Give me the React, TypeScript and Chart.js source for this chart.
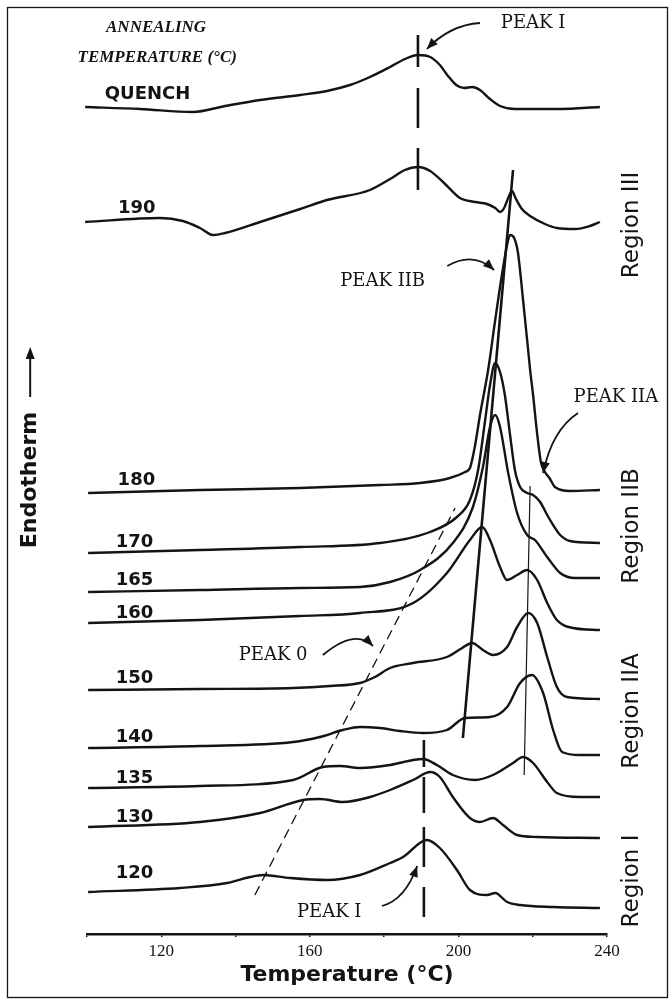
import React, { useEffect, useRef } from "react";
import { Chart, registerables } from "chart.js";

Chart.register(...registerables);

// ---------------- axis ----------------
const X_MIN = 100;
const X_MAX = 240;
const X_STEP = 20;
const X_TICK_LABELS = [120, 160, 200, 240];
const Y_MIN = 0;
const Y_MAX = 924;
const X_TITLE = "Temperature (°C)";
const Y_TITLE = "Endotherm";

// ---------------- DSC curves (temperature °C, endotherm, arbitrary units) ----------------
const quenchT = [99.5, 114.3, 128.5, 137.2, 146.6, 157.4, 164.6, 170.8, 176.2, 181.6, 185.6, 189.1, 192.4, 195.0, 197.2, 199.4, 201.5, 203.7, 205.8, 208.5, 211.2, 215.2, 227.4, 238.1];
const quenchV = [827, 825, 822, 828, 834, 839, 843, 849, 857, 867, 875, 879, 877, 869, 858, 849, 846, 847, 844, 835, 828, 825, 825, 827];

const a190T = [99.5, 119.7, 125.8, 130.4, 133.9, 137.2, 146.6, 157.4, 164.6, 176.2, 181.6, 185.6, 189.1, 192.4, 196.4, 200.4, 204.5, 207.7, 209.9, 211.2, 212.3, 213.4, 214.4, 215.5, 217.1, 219.3, 223.3, 226.5, 231.4, 235.4, 238.1];
const a190V = [712, 716, 713, 706, 699, 701, 712, 725, 734, 744, 755, 764, 767, 763, 750, 736, 732, 730, 726, 722, 726, 736, 743, 735, 725, 718, 710, 706, 705, 708, 712];

const a180T = [100.3, 130.4, 157.4, 178.9, 189.7, 197.7, 201.8, 203.1, 204.5, 205.8, 208.0, 209.9, 211.7, 213.1, 213.9, 215.0, 216.0, 217.4, 218.5, 219.3, 220.1, 221.2, 222.2, 223.3, 224.5, 226.0, 230.0, 238.1];
const a180V = [441, 444, 446, 449, 451, 456, 462, 466, 489, 519, 564, 614, 659, 689, 699, 696, 682, 634, 594, 564, 539, 500, 472, 462, 456, 447, 443, 444];

const a170T = [100.3, 130.4, 157.4, 178.9, 192.4, 199.6, 203.1, 205.3, 207.2, 208.5, 209.9, 211.2, 212.5, 213.9, 215.2, 216.6, 218.5, 220.1, 222.0, 223.9, 225.5, 227.4, 230.0, 238.1];
const a170V = [381, 384, 387, 391, 402, 417, 434, 464, 514, 549, 571, 562, 539, 499, 464, 447, 441, 439, 432, 419, 409, 399, 393, 391];

const a165T = [100.3, 130.4, 157.4, 173.5, 181.6, 189.7, 198.5, 203.9, 206.6, 208.5, 209.9, 211.2, 213.4, 215.8, 218.5, 220.6, 223.9, 227.4, 231.4, 238.1];
const a165V = [342, 344, 346, 347, 352, 364, 391, 427, 467, 507, 519, 507, 461, 421, 399, 394, 377, 361, 356, 356];

const a160T = [100.3, 130.4, 157.4, 173.5, 187.8, 196.9, 203.1, 206.4, 208.5, 211.2, 213.1, 215.8, 218.5, 221.2, 223.9, 226.5, 230.9, 238.1];
const a160V = [311, 314, 318, 321, 331, 361, 394, 407, 394, 367, 354, 359, 364, 354, 331, 314, 306, 304];

const a150T = [100.3, 130.4, 155.5, 165.4, 173.5, 177.5, 181.6, 187.8, 196.9, 201.0, 203.7, 206.6, 209.3, 213.1, 215.8, 218.8, 221.2, 223.9, 226.5, 229.2, 238.1];
const a150V = [244, 245, 246, 248, 251, 257, 266, 271, 277, 286, 291, 284, 279, 287, 307, 321, 311, 277, 247, 237, 235];

const a140T = [100.3, 130.4, 155.5, 162.7, 168.9, 173.5, 178.9, 184.3, 190.5, 196.9, 201.8, 208.5, 213.1, 216.6, 219.8, 222.8, 225.5, 227.9, 232.7, 238.1];
const a140V = [186, 188, 192, 197, 204, 207, 206, 203, 201, 204, 216, 217, 227, 251, 259, 241, 204, 182, 179, 179];

const a135T = [100.3, 130.4, 155.5, 163.5, 168.1, 173.5, 181.6, 187.8, 190.5, 194.2, 198.5, 204.5, 209.3, 214.7, 217.4, 220.1, 223.9, 226.5, 232.7, 238.1];
const a135V = [146, 148, 154, 167, 168, 166, 169, 174, 175, 169, 159, 154, 159, 171, 177, 171, 152, 141, 137, 137];

const a130T = [100.3, 130.4, 146.6, 158.2, 162.7, 168.9, 176.2, 181.6, 187.8, 192.4, 195.0, 198.5, 203.1, 205.8, 209.3, 212.0, 215.8, 221.2, 238.1];
const a130V = [107, 112, 121, 134, 135, 132, 137, 144, 154, 162, 157, 137, 116, 112, 116, 109, 99, 97, 96];

const a120T = [100.3, 125.0, 137.7, 143.9, 147.4, 154.7, 164.6, 173.5, 181.6, 185.1, 191.5, 195.0, 199.6, 203.1, 207.7, 209.9, 213.1, 216.6, 225.5, 238.1];
const a120V = [42, 46, 51, 57, 59, 56, 54, 59, 71, 77, 94, 86, 64, 44, 39, 41, 32, 29, 27, 26];

// ---------------- curve labels ----------------
const CURVE_NAMES = ["QUENCH", "190", "180", "170", "165", "160", "150", "140", "135", "130", "120"];
const CURVE_LABEL_T = [116.3, 113.4, 113.3, 112.8, 112.8, 112.8, 112.8, 112.8, 112.8, 112.8, 112.8];
const CURVE_LABEL_V = [840, 726, 454, 392, 354, 321, 256, 197, 156, 117, 61];

const HEADING_LINES = ["ANNEALING", "TEMPERATURE (°C)"];
const HEADING_T = [118.6, 118.9];
const HEADING_V = [906, 876];

// ---------------- peak guide lines ----------------
const PEAK_I_TOP_T = 189.1;
const PEAK_I_TOP_SEGS = [[899, 867], [846, 806], [786, 744]];
const PEAK_I_BOT_T = 190.7;
const PEAK_I_BOT_SEGS = [[194, 167], [157, 121], [107, 67], [47, 17]];
const PEAK_IIB_LINE_T = [201.2, 214.7];
const PEAK_IIB_LINE_V = [196, 764];
const PEAK_IIA_LINE_T = [217.7, 219.3];
const PEAK_IIA_LINE_V = [159, 448];
const PEAK_0_LINE_T = [145.2, 199.1];
const PEAK_0_LINE_V = [39, 426];

// ---------------- peak annotations ----------------
const PEAK_TEXTS = ["PEAK I", "PEAK IIB", "PEAK IIA", "PEAK 0", "PEAK I"];
const PEAK_TEXT_T = [220.1, 179.6, 242.4, 150.1, 165.2];
const PEAK_TEXT_V = [911, 653, 537, 279, 22];
const ARROW_TAIL_T = [205.8, 197.0, 232.2, 163.5, 179.4];
const ARROW_TAIL_V = [911, 668, 521, 279, 28];
const ARROW_CTRL_T = [197.7, 204.0, 225.2, 172.2, 185.6];
const ARROW_CTRL_V = [909, 683, 504, 306, 34];
const ARROW_HEAD_T = [191.5, 209.6, 222.8, 177.0, 188.9];
const ARROW_HEAD_V = [885, 664, 461, 288, 68];

// ---------------- regions ----------------
const REGION_NAMES = ["Region III", "Region IIB", "Region IIA", "Region I"];
const REGION_T = 246.7;
const REGION_V = [709, 408, 223, 53];

const Y_TITLE_T = 84.7;
const Y_TITLE_V = 454;
const Y_ARROW_V = [537, 587];

const INK = "#141414";

const CURVES: [number[], number[]][] = [
  [quenchT, quenchV],
  [a190T, a190V],
  [a180T, a180V],
  [a170T, a170V],
  [a165T, a165V],
  [a160T, a160V],
  [a150T, a150V],
  [a140T, a140V],
  [a135T, a135V],
  [a130T, a130V],
  [a120T, a120V],
];

function pts(ts: number[], vs: number[]) {
  return ts.map((t, i) => ({ x: t, y: vs[i] }));
}

function segs(t: number, s: number[][]) {
  const out: any[] = [];
  s.forEach(([a, b]) => {
    out.push({ x: t, y: a }, { x: t, y: b }, { x: t, y: null });
  });
  return out;
}

function arrowHead(ctx: CanvasRenderingContext2D, fx: number, fy: number, tx: number, ty: number, len = 10, half = 4) {
  const a = Math.atan2(ty - fy, tx - fx);
  ctx.beginPath();
  ctx.moveTo(tx, ty);
  ctx.lineTo(tx - len * Math.cos(a) + half * Math.sin(a), ty - len * Math.sin(a) - half * Math.cos(a));
  ctx.lineTo(tx - len * Math.cos(a) - half * Math.sin(a), ty - len * Math.sin(a) + half * Math.cos(a));
  ctx.closePath();
  ctx.fill();
}

const annotationPlugin = {
  id: "dscAnnotations",
  beforeDraw(chart: any) {
    const ctx = chart.ctx;
    ctx.save();
    ctx.fillStyle = "#ffffff";
    ctx.fillRect(0, 0, chart.width, chart.height);
    ctx.restore();
  },
  afterDraw(chart: any) {
    const ctx: CanvasRenderingContext2D = chart.ctx;
    const xs = chart.scales.x;
    const ys = chart.scales.y;
    const X = (t: number) => xs.getPixelForValue(t);
    const Y = (v: number) => ys.getPixelForValue(v);
    ctx.save();
    // frame
    ctx.strokeStyle = INK;
    ctx.lineWidth = 1.3;
    ctx.strokeRect(7.5, 7.5, 660, 990);

    ctx.fillStyle = INK;
    ctx.textAlign = "center";
    ctx.textBaseline = "middle";

    // curve labels
    CURVE_NAMES.forEach((n, i) => {
      ctx.font = i === 0 ? "bold 18px 'DejaVu Sans'" : "bold 18px 'DejaVu Sans'";
      ctx.fillText(n, X(CURVE_LABEL_T[i]), Y(CURVE_LABEL_V[i]));
    });

    // heading
    ctx.font = "italic bold 17px 'Liberation Serif'";
    HEADING_LINES.forEach((h, i) => ctx.fillText(h, X(HEADING_T[i]), Y(HEADING_V[i])));

    // peak texts
    ctx.font = "18px 'DejaVu Serif'";
    PEAK_TEXTS.forEach((p, i) => ctx.fillText(p, X(PEAK_TEXT_T[i]), Y(PEAK_TEXT_V[i])));

    // arrows
    ctx.strokeStyle = INK;
    ctx.lineWidth = 1.8;
    PEAK_TEXTS.forEach((_, i) => {
      const tx = X(ARROW_TAIL_T[i]), ty = Y(ARROW_TAIL_V[i]);
      const cx = X(ARROW_CTRL_T[i]), cy = Y(ARROW_CTRL_V[i]);
      const hx = X(ARROW_HEAD_T[i]), hy = Y(ARROW_HEAD_V[i]);
      ctx.beginPath();
      ctx.moveTo(tx, ty);
      ctx.quadraticCurveTo(cx, cy, hx, hy);
      ctx.stroke();
      arrowHead(ctx, cx, cy, hx, hy, 11, 4.5);
    });

    // regions
    ctx.font = "23px 'DejaVu Sans'";
    REGION_NAMES.forEach((r, i) => {
      ctx.save();
      ctx.translate(X(REGION_T), Y(REGION_V[i]));
      ctx.rotate(-Math.PI / 2);
      ctx.fillText(r, 0, 0);
      ctx.restore();
    });

    // y title with arrow
    ctx.font = "bold 22px 'DejaVu Sans'";
    ctx.save();
    ctx.translate(X(Y_TITLE_T), Y(Y_TITLE_V));
    ctx.rotate(-Math.PI / 2);
    ctx.fillText(Y_TITLE, 0, 0);
    ctx.restore();
    const ax = X(Y_TITLE_T);
    ctx.lineWidth = 2;
    ctx.beginPath();
    ctx.moveTo(ax, Y(Y_ARROW_V[0]));
    ctx.lineTo(ax, Y(Y_ARROW_V[1]) + 6);
    ctx.stroke();
    arrowHead(ctx, ax, Y(Y_ARROW_V[0]), ax, Y(Y_ARROW_V[1]), 12, 4.5);

    ctx.restore();
  },
};

export default function App() {
  const ref = useRef<HTMLCanvasElement>(null);

  useEffect(() => {
    const canvas = ref.current;
    if (!canvas) return;

    const curveSets = CURVES.map(([t, v], i) => ({
      label: CURVE_NAMES[i],
      data: pts(t, v),
      borderColor: INK,
      borderWidth: 2.4,
      pointRadius: 0,
      fill: false,
      cubicInterpolationMode: "monotone" as const,
      clip: false as any,
    }));

    const lineBase = {
      borderColor: INK,
      pointRadius: 0,
      fill: false,
      tension: 0,
      spanGaps: false,
      clip: false as any,
    };

    const guideSets = [
      { ...lineBase, label: "Peak I (top)", data: segs(PEAK_I_TOP_T, PEAK_I_TOP_SEGS), borderWidth: 2.6 },
      { ...lineBase, label: "Peak I (bottom)", data: segs(PEAK_I_BOT_T, PEAK_I_BOT_SEGS), borderWidth: 2.6 },
      { ...lineBase, label: "Peak IIB", data: pts(PEAK_IIB_LINE_T, PEAK_IIB_LINE_V), borderWidth: 2.6 },
      { ...lineBase, label: "Peak IIA", data: pts(PEAK_IIA_LINE_T, PEAK_IIA_LINE_V), borderWidth: 1.2 },
      { ...lineBase, label: "Peak 0", data: pts(PEAK_0_LINE_T, PEAK_0_LINE_V), borderWidth: 1.3, borderDash: [10, 6] },
    ];

    const chart = new Chart(canvas, {
      type: "line",
      data: { datasets: [...curveSets, ...guideSets] as any },
      options: {
        animation: false,
        responsive: false,
        events: [],
        layout: { padding: { left: 87, right: 65, top: 10, bottom: 0 } },
        plugins: { legend: { display: false }, tooltip: { enabled: false }, title: { display: false } },
        scales: {
          x: {
            type: "linear",
            min: X_MIN,
            max: X_MAX,
            afterFit: (scale: any) => {
              scale.height = 67;
            },
            ticks: {
              stepSize: X_STEP,
              autoSkip: false,
              maxRotation: 0,
              padding: 4,
              color: INK,
              font: { family: "'Liberation Serif'", size: 17 },
              callback: (v: any) => (X_TICK_LABELS.includes(Number(v)) ? String(v) : ""),
            },
            grid: { display: true, drawOnChartArea: false, drawTicks: true, tickLength: 3, color: INK, lineWidth: 1.5 },
            border: { display: true, color: INK, width: 2.5 },
            title: {
              display: true,
              text: X_TITLE,
              color: INK,
              font: { family: "'DejaVu Sans'", weight: "bold", size: 22 },
              padding: { top: 0, bottom: 13 },
            },
          },
          y: { type: "linear", display: false, min: Y_MIN, max: Y_MAX },
        },
      },
      plugins: [annotationPlugin],
    });

    return () => chart.destroy();
  }, []);

  return (
    <div style={{ position: "absolute", left: 0, top: 0, width: 672, height: 1001, background: "#fff" }}>
      <canvas ref={ref} width={672} height={1001} style={{ display: "block" }} />
    </div>
  );
}
